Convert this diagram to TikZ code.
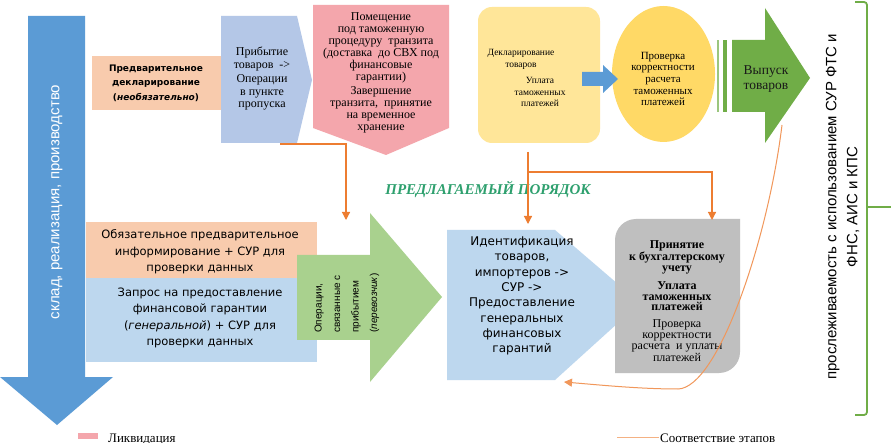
\documentclass[tikz,border=0pt]{standalone}
\usepackage{fontspec}
\setmainfont{Liberation Serif}
\newfontfamily\dvs{DejaVu Sans}
\newfontfamily\lsans{Liberation Sans}
\usetikzlibrary{arrows.meta}
\definecolor{bigblue}{HTML}{5B9BD5}
\definecolor{peach}{HTML}{F8CBAD}
\definecolor{lavblue}{HTML}{B4C7E7}
\definecolor{pinkc}{HTML}{F4A6AC}
\definecolor{yel}{HTML}{FFE699}
\definecolor{gold}{HTML}{FFD966}
\definecolor{grn}{HTML}{70AD47}
\definecolor{lgrn}{HTML}{A9D18E}
\definecolor{lblue}{HTML}{BDD7EE}
\definecolor{gry}{HTML}{BFBFBF}
\definecolor{orng}{HTML}{ED7D31}
\definecolor{ttl}{RGB}{46,160,110}
\begin{document}
\begin{tikzpicture}[x=1pt,y=-1pt,
  lbl/.style={inner sep=0pt, align=center, text=black},
  conn/.style={orng, line width=1.2pt, -{Triangle[width=8pt,length=8pt]}},
  curveconn/.style={orng!80, line width=1pt, -{Triangle[width=8pt,length=8pt]}},
]
\useasboundingbox (0,0) rectangle (891,443);
\fill[white] (0,0) rectangle (891,443);

% big blue down arrow
\fill[bigblue] (28,16) -- (85,16) -- (85,377) -- (113,377) -- (57,425) -- (0,377) -- (28,377) -- cycle;
\node[lbl, rotate=90, text=white, font=\lsans\fontsize{15}{18}\selectfont] (sklad) at (57,202) {склад, реализация, производство};

% pre-declaration box
\fill[peach] (92,56) rectangle (221,110);
\node[lbl, font=\dvs\bfseries\fontsize{9}{14.5}\selectfont] (predecl) at (156,83) {Предварительное\\декларирование\\(\textit{необязательно})};

% arrival chevron
\fill[lavblue] (221,16) -- (297,16) -- (312,80) -- (297,143) -- (221,143) -- cycle;
\node[lbl, font=\fontsize{12}{12.5}\selectfont] (arrival) at (262,79) {Прибытие\\товаров \ ->\\[2pt]Операции\\в пункте\\пропуска};

% transit pentagon
\fill[pinkc] (313,5) -- (449,5) -- (449,128) -- (386,155) -- (313,128) -- cycle;
\node[lbl, font=\fontsize{12}{12}\selectfont] (transit) at (381,73) {Помещение\\под таможенную\\процедуру \ транзита\\(доставка \ до СВХ под\\финансовые\\гарантии)\\[2pt]Завершение\\транзита, \ принятие\\на временное\\хранение};

% declaration rounded box
\fill[yel, rounded corners=14pt] (478,7) rectangle (600,143);
\node[lbl, font=\fontsize{9.5}{12}\selectfont] (decl) at (521,59) {Декларирование\\товаров};
\node[lbl, font=\fontsize{9.5}{11.5}\selectfont] (pay) at (540,92) {Уплата\\таможенных\\платежей};

% check ellipse
\fill[gold] (663.5,74) ellipse [x radius=51.5pt, y radius=68pt];
\node[lbl, font=\fontsize{11}{11.7}\selectfont] (check) at (663,79) {Проверка\\корректности\\расчета\\таможенных\\платежей};

% small blue arrow
\fill[bigblue] (582,72) -- (603,72) -- (603,65) -- (618,79) -- (603,93) -- (603,86) -- (582,86) -- cycle;

% release striped arrow
\fill[grn!70] (716.5,40) rectangle (718.5,112);
\fill[grn] (722.5,40) rectangle (726.5,112);
\fill[grn] (732,40) -- (765,40) -- (765,8) -- (810,78) -- (765,143) -- (765,112) -- (732,112) -- cycle;
\node[lbl, text=black!90, font=\fontsize{13.5}{14.5}\selectfont] (release) at (766,79) {Выпуск\\товаров};

% right vertical text and brace
\node[lbl, rotate=90, font=\lsans\fontsize{15}{21}\selectfont] (trace) at (842.5,207) {прослеживаемость с использованием СУР ФТС и\\ФНС, АИС и КПС};
\draw[grn, line width=1.8pt, rounded corners=3pt] (855,2) -- (867,2) -- (867,415) -- (855,415);
\coordinate (bracetip) at (867,207);
\coordinate (braceout) at (891,207);
\draw[grn, line width=1.8pt] (bracetip) -- (braceout);

% title
\node[lbl, text=ttl, font=\bfseries\itshape\fontsize{15}{18}\selectfont] (title) at (488,189) {ПРЕДЛАГАЕМЫЙ ПОРЯДОК};

% lower-left boxes
\fill[peach] (86,222) rectangle (317,278);
\node[lbl, font=\dvs\fontsize{11.5}{16.5}\selectfont] (inform) at (200,252) {Обязательное предварительное\\информирование + СУР для\\проверки данных};
\fill[lblue] (86,278) rectangle (317,362);
\node[lbl, font=\dvs\fontsize{11.5}{16.5}\selectfont] (guar) at (200,318) {Запрос на предоставление\\финансовой гарантии\\(\textit{генеральной}) + СУР для\\проверки данных};

% lower green chevron
\fill[lgrn] (297,255) -- (370,255) -- (370,213) -- (442,297) -- (370,382) -- (370,340) -- (297,340) -- cycle;
\node[lbl, align=left, anchor=west, rotate=90, font=\lsans\fontsize{10}{18.5}\selectfont] (carrier) at (347,333) {Операции,\\связанные с\\прибытием\\(\textit{перевозчик})};

% identification pentagon
\fill[lblue] (447,230) -- (555,230) -- (640,303) -- (555,380) -- (447,380) -- cycle;
\node[lbl, font=\dvs\fontsize{12}{15.3}\selectfont] (ident) at (522,296) {Идентификация\\товаров,\\импортеров ->\\СУР ->\\Предоставление\\генеральных\\финансовых\\гарантий};

% grey box
\fill[gry] (615,373) -- (615,240) arc[start angle=180, end angle=90, radius=21pt] -- (740,219) -- (740,352) arc[start angle=0, end angle=-90, radius=21pt] -- cycle;
\node[lbl, font=\fontsize{12}{10.8}\selectfont] (account) at (677,301) {\textbf{Принятие}\\\textbf{к бухгалтерскому}\\\textbf{учету}\\[7pt]\textbf{Уплата}\\\textbf{таможенных}\\\textbf{платежей}\\[6pt]Проверка\\корректности\\расчета \ и уплаты\\платежей};

% orange connectors
\coordinate (c1s) at (280,144);
\coordinate (c1b) at (346,144);
\coordinate (c1e) at (346,220);
\draw[conn] (c1s) -- (c1b) -- (c1e);
\coordinate (c2s) at (528,152);
\coordinate (c2e) at (528,224);
\draw[conn] (c2s) -- (c2e);
\coordinate (c3s) at (528,172);
\coordinate (c3b) at (712,172);
\coordinate (c3e) at (712,220);
\draw[conn] (c3s) -- (c3b) -- (c3e);
\coordinate (c4s) at (782,125);
\coordinate (c4m) at (678,389);
\coordinate (c4e) at (564,382);
\draw[curveconn] (c4s) .. controls (768,240) and (718,388) .. (c4m) .. controls (640,389) and (600,385) .. (c4e);

% legend
\fill[pinkc] (78,433) rectangle (98,439);
\node[anchor=base west, inner sep=0pt, font=\fontsize{13}{15}\selectfont] (legliq) at (108,442) {Ликвидация};
\coordinate (lega) at (617,437);
\coordinate (legb) at (659,437);
\draw[orng!60, line width=1pt] (lega) -- (legb);
\node[anchor=base west, inner sep=0pt, font=\fontsize{13}{15}\selectfont] (legcorr) at (660,442) {Соответствие этапов};
\end{tikzpicture}
\end{document}
